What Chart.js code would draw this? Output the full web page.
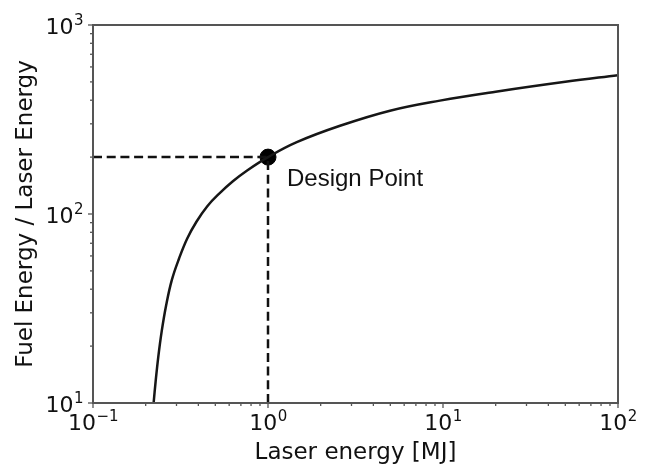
<!DOCTYPE html>
<html lang="en">
<head>
<meta charset="UTF-8">
<title>Fuel gain vs laser energy</title>
<script src="https://cdn.jsdelivr.net/npm/chart.js"></script>
<style>
    body {
        margin: 0;
        background-color: #ffffff;
    }

    .chart-box {
        width: 650px;
        height: 465px;
    }
</style>
</head>
<body>
<div class="chart-box">
    <canvas id="grafico"></canvas>
</div>

<script>
    // values (log-log axes)
    const laserEnergy = [0.222, 0.228, 0.236, 0.247, 0.262, 0.282, 0.31, 0.345, 0.39, 0.45, 0.53, 0.63, 0.76, 1.0, 1.46, 2.58, 4.98, 9.6, 20, 50, 100];
    const fuelGain = [10, 13, 17.5, 24, 33, 44.7, 58, 74, 91, 110, 129, 149, 170, 200, 240, 293, 352, 398, 444, 501, 543];

    const designX = [1];
    const designY = [200];
    const designLabel = 'Design Point';

    // tick labels as base + exponent (drawn as 10 with a raised power)
    const xTickValues = [0.1, 1, 10, 100];
    const xTickExp = ['−1', '0', '1', '2'];
    const yTickValues = [10, 100, 1000];
    const yTickExp = ['1', '2', '3'];

    const curve = laserEnergy.map((x, i) => ({ x: x, y: fuelGain[i] }));
    const dashH = [{ x: xTickValues[0], y: designY[0] }, { x: designX[0], y: designY[0] }];
    const dashV = [{ x: designX[0], y: yTickValues[0] }, { x: designX[0], y: designY[0] }];

    const familia = '"DejaVu Sans", sans-serif';

    // frame, minor/major tick marks, tick labels and the point label
    const framePlugin = {
        id: 'frame',
        afterDraw(chart) {
            const ctx = chart.ctx;
            const a = chart.chartArea;
            const xs = chart.scales.x;
            const ys = chart.scales.y;
            ctx.save();
            ctx.strokeStyle = '#555';
            ctx.lineWidth = 1.3;
            for (let n = -1; n <= 2; n++) {
                for (let k = 1; k <= 9; k++) {
                    const v = k * Math.pow(10, n);
                    if (v > 100.001) break;
                    const px = xs.getPixelForValue(v);
                    ctx.beginPath();
                    ctx.moveTo(px, a.bottom);
                    ctx.lineTo(px, a.bottom + (k === 1 ? 5 : 3));
                    ctx.stroke();
                }
            }
            for (let n = 1; n <= 3; n++) {
                for (let k = 1; k <= 9; k++) {
                    const v = k * Math.pow(10, n);
                    if (v > 1000.001) break;
                    const py = ys.getPixelForValue(v);
                    ctx.beginPath();
                    ctx.moveTo(a.left, py);
                    ctx.lineTo(a.left - (k === 1 ? 5 : 3), py);
                    ctx.stroke();
                }
            }

            ctx.lineWidth = 2;
            ctx.strokeRect(a.left, a.top, a.right - a.left, a.bottom - a.top);

            // tick labels
            ctx.fillStyle = '#111';
            ctx.textBaseline = 'alphabetic';
            ctx.textAlign = 'left';
            const big = '22px ' + familia;
            const small = '15px ' + familia;
            function medir(exp) {
                ctx.font = big;
                const wb = ctx.measureText('10').width;
                ctx.font = small;
                const we = ctx.measureText(exp).width;
                return [wb, we];
            }
            function escrever(x0, base, exp) {
                const [wb] = medir(exp);
                ctx.font = big;
                ctx.fillText('10', x0, base);
                ctx.font = small;
                ctx.fillText(exp, x0 + wb + 0.5, base - 9);
            }
            xTickValues.forEach((v, i) => {
                const [wb, we] = medir(xTickExp[i]);
                const px = xs.getPixelForValue(v);
                escrever(px - (wb + we) / 2, a.bottom + 27, xTickExp[i]);
            });
            yTickValues.forEach((v, i) => {
                const [wb, we] = medir(yTickExp[i]);
                const py = ys.getPixelForValue(v);
                escrever(a.left - 10 - wb - we, py + 9, yTickExp[i]);
            });

            ctx.font = '24px "Liberation Sans", Arial, sans-serif';
            ctx.fillText(designLabel, xs.getPixelForValue(designX[0]) + 19, ys.getPixelForValue(designY[0]) + 29);
            ctx.restore();
        }
    };

    const ctx = document.getElementById('grafico').getContext('2d');
    const chart = new Chart(ctx, {
        type: 'scatter',
        data: {
            datasets: [
                {
                    data: curve,
                    showLine: true,
                    borderColor: '#161616',
                    borderWidth: 2.5,
                    pointRadius: 0,
                    tension: 0.4
                },
                {
                    data: dashH,
                    showLine: true,
                    borderColor: '#111',
                    borderWidth: 2.5,
                    borderDash: [9, 4.7],
                    pointRadius: 0
                },
                {
                    data: dashV,
                    showLine: true,
                    borderColor: '#111',
                    borderWidth: 2.5,
                    borderDash: [9, 4.7],
                    pointRadius: 0
                },
                {
                    data: designX.map((x, i) => ({ x: x, y: designY[i] })),
                    backgroundColor: '#000',
                    borderColor: '#000',
                    pointRadius: 8
                }
            ]
        },
        options: {
            responsive: true,
            maintainAspectRatio: false,
            animation: false,
            layout: { padding: { top: 25, right: 32, left: 0, bottom: 0 } },
            plugins: {
                legend: { display: false },
                tooltip: { enabled: false }
            },
            scales: {
                x: {
                    type: 'logarithmic',
                    min: 0.1,
                    max: 100,
                    afterFit: (s) => { s.height = 62; },
                    grid: { display: false },
                    border: { display: false },
                    ticks: { display: false },
                    title: {
                        display: true,
                        text: 'Laser energy [MJ]',
                        color: '#111',
                        font: { family: familia, size: 23 },
                        padding: { top: 0, bottom: -2 }
                    }
                },
                y: {
                    type: 'logarithmic',
                    min: 10,
                    max: 1000,
                    afterFit: (s) => { s.width = 93; },
                    grid: { display: false },
                    border: { display: false },
                    ticks: { display: false },
                    title: {
                        display: true,
                        text: 'Fuel Energy / Laser Energy',
                        color: '#111',
                        font: { family: familia, size: 23 },
                        padding: { top: 12, bottom: 0 }
                    }
                }
            }
        },
        plugins: [framePlugin]
    });
</script>
</body>
</html>
